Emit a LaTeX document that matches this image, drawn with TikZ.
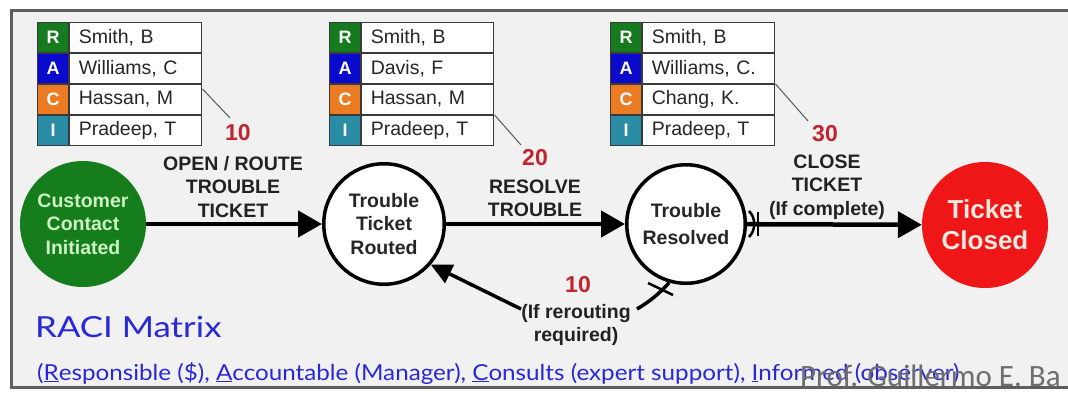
\documentclass[tikz,border=0pt]{standalone}
\usepackage{fontspec}
\usepackage{graphicx}
\setmainfont{Liberation Sans}
\newfontfamily\handfont{Lato}
\newfontfamily\sigfont{Carlito}
\usetikzlibrary{arrows.meta,calc}

\definecolor{panel}{HTML}{F1F1F1}
\definecolor{framegray}{HTML}{5E5E5E}
\definecolor{tblline}{HTML}{3A3A3A}
\definecolor{rR}{RGB}{22,122,30}
\definecolor{rA}{RGB}{10,10,205}
\definecolor{rC}{RGB}{236,124,36}
\definecolor{rI}{RGB}{42,140,165}
\definecolor{startgreen}{RGB}{22,125,28}
\definecolor{startText}{RGB}{205,242,195}
\definecolor{endred}{RGB}{238,22,22}
\definecolor{endText}{RGB}{255,232,224}
\definecolor{numred}{RGB}{192,36,44}
\definecolor{lbltext}{HTML}{222222}
\definecolor{raciblue}{RGB}{40,40,215}
\definecolor{siggray}{HTML}{6E6E6E}

\newcommand\racitable[6]{%
  \node[lcell,fill=rR,anchor=north west] (#1r) at (#2,22) {R};
  \node[ncell,anchor=west] (#1rn) at (#1r.east) {#3};
  \node[lcell,fill=rA,anchor=north] (#1a) at (#1r.south) {A};
  \node[ncell,anchor=west] (#1an) at (#1a.east) {#4};
  \node[lcell,fill=rC,anchor=north] (#1c) at (#1a.south) {C};
  \node[ncell,anchor=west] (#1cn) at (#1c.east) {#5};
  \node[lcell,fill=rI,anchor=north] (#1i) at (#1c.south) {I};
  \node[ncell,anchor=west] (#1in) at (#1i.east) {#6};
}

\begin{document}
\begin{tikzpicture}[x=1pt,y=-1pt,
  lcell/.style={draw=tblline,line width=1.2pt,minimum width=31pt,minimum height=29.75pt,
    inner sep=0pt,text=white,font=\bfseries\fontsize{18}{18}\selectfont},
  ncell/.style={draw=tblline,line width=1.2pt,fill=white,text width=114pt,inner xsep=9pt,
    inner ysep=0pt,minimum height=29.75pt,align=left,text=black!85,
    font=\fontsize{19.5}{20}\selectfont},
  state/.style={circle,draw=black,line width=3.5pt,fill=white,inner sep=0pt,align=center,
    font=\bfseries\fontsize{19.5}{23.5}\selectfont,text=black!85},
  num/.style={text=numred,inner sep=1pt,font=\bfseries\fontsize{23}{23}\selectfont},
  lbl/.style={text=lbltext,inner sep=1pt,align=center,font=\bfseries\fontsize{19.5}{23.5}\selectfont},
  flow/.style={line width=4.5pt,-{Triangle[length=24pt,width=26pt]}},
  back/.style={line width=3.5pt},
  leader/.style={draw=black!65,line width=1pt},
  tick/.style={line width=2.5pt}]

\useasboundingbox (0,0) rectangle (1068,392);
\clip (0,0) rectangle (1068,392);
\fill[white] (0,0) rectangle (1068,392);
\draw[framegray,line width=3pt,fill=panel] (11,10) rectangle (1090,387);

% responsibility tables
\racitable{ta}{37}{Smith, B}{Williams, C}{Hassan, M}{Pradeep, T}
\racitable{tb}{329}{Smith, B}{Davis, F}{Hassan, M}{Pradeep, T}
\racitable{tc}{610}{Smith, B}{Williams, C.}{Chang, K.}{Pradeep, T}

% process states
\node[circle,fill=startgreen,minimum size=126pt,inner sep=0pt,align=center,
  text=startText,font=\bfseries\fontsize{19.5}{23.5}\selectfont] (start) at (83,224)
  {Customer\\Contact\\Initiated};
\node[state,minimum size=120.5pt] (rout) at (384,224) {Trouble\\Ticket\\Routed};
\node[state,minimum size=118.5pt,font=\bfseries\fontsize{19.5}{27}\selectfont] (res) at (686,224)
  {Trouble\\Resolved};
\node[circle,fill=endred,minimum size=126pt,inner sep=0pt,align=center,
  text=endText,font=\bfseries\fontsize{26}{31}\selectfont] (end) at (985,225)
  {Ticket\\Closed};

% step numbers and step labels
\node[num] (n1) at (238,133) {10};
\node[lbl] (l1) at (233,187) {OPEN / ROUTE\\TROUBLE\\TICKET};
\node[num] (n2) at (535,158) {20};
\node[lbl] (l2) at (535,198.5) {RESOLVE\\TROUBLE};
\node[num] (n3) at (825,134) {30};
\node[lbl] (l3) at (827,187) {CLOSE\\TICKET\\(If complete)};
\node[num] (n4) at (578,285) {10};
\node[lbl] (rr) at (576,325) {(If rerouting\\required)};

% leader lines from tables to step numbers
\coordinate (k1) at (230,118);
\coordinate (k2) at (521,145);
\coordinate (k3) at (808,121);
\draw[leader] ($(tacn.north east)+(0,5)$) -- (k1);
\draw[leader] (tbcn.south east) -- (k2);
\draw[leader] (tccn.north east) -- (k3);

% main flow
\draw[flow] (start) -- (rout);
\draw[flow] (rout) -- (res);
\draw[flow] (res) -- (end);

% return path for rerouting
\coordinate (rrE) at (637,309);
\coordinate (rrW) at (521,309);
\draw[back] (res.-106) to[bend left=8] (rrE);
\draw[back,-{Triangle[length=21pt,width=20pt]}] (rrW) -- (rout.-41);

% condition marks at the exits of the resolved state
\draw[tick] (749,211) .. controls (756,218) and (756,230) .. (749,237);
\draw[tick] (758,212) -- (758,236);
\draw[tick] (648,283) -- (673,295);

% legend
\node[anchor=base west,inner sep=0pt,text=raciblue,font=\handfont\fontsize{29}{29}\selectfont]
  (title) at (35,337) {\scalebox{1.2}[1]{RACI Matrix}};
\node[anchor=base west,inner sep=0pt,text=raciblue,font=\handfont\fontsize{22}{22}\selectfont]
  (legend) at (37,380) {\scalebox{1.1}[1]{(\underline{R}esponsible (\$), \underline{A}ccountable (Manager),
  \underline{C}onsults (expert support), \underline{I}nformed (observer)}};

\node[anchor=base west,inner sep=0pt,text=siggray,font=\sigfont\fontsize{31}{31}\selectfont]
  (sig) at (800,386) {Prof. Guillermo E. Ba};
\end{tikzpicture}
\end{document}
